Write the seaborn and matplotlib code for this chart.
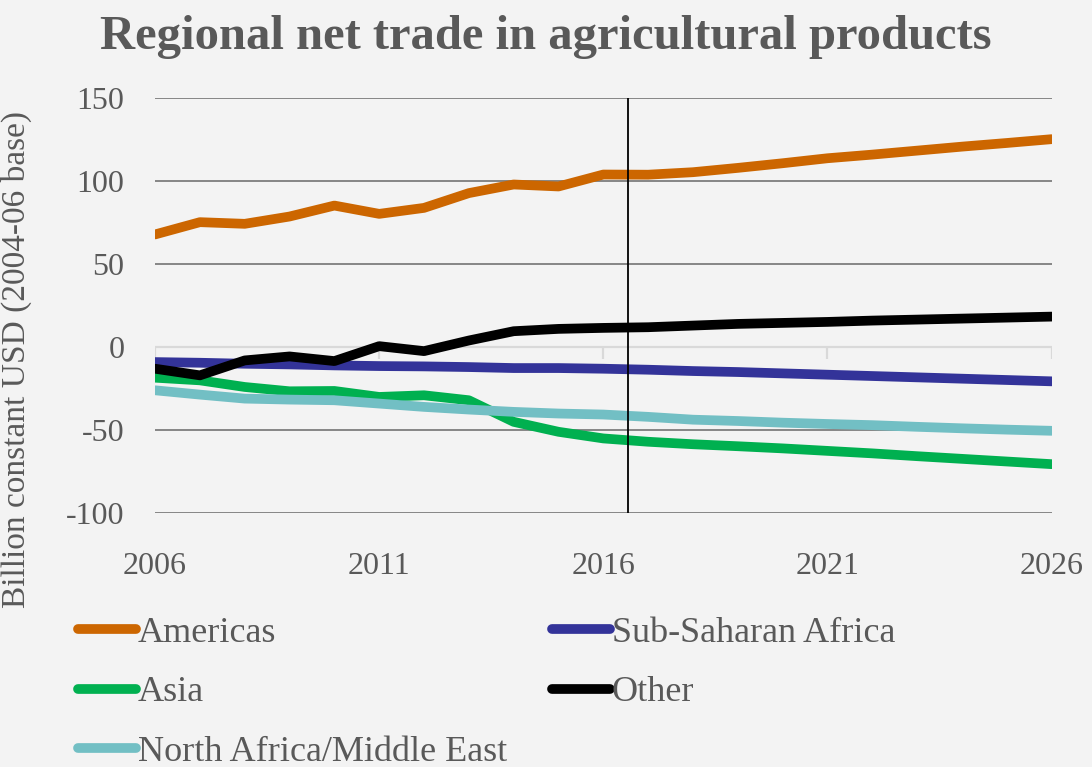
import matplotlib
matplotlib.use("Agg")
import matplotlib.pyplot as plt
from matplotlib.lines import Line2D
import pandas as pd
import seaborn as sns

YEARS = list(range(2006, 2027))

AMERICAS = [67.9, 75.3, 74.3, 78.7, 85.3, 80.3, 83.9, 92.8, 98.0, 96.8, 104.0,
            103.9, 105.4, 108.0, 110.8, 113.8, 116.0, 118.4, 120.8, 123.0, 125.3]
SSA = [-9.0, -9.4, -10.0, -10.4, -11.0, -11.4, -11.6, -12.0, -12.6, -12.6, -13.0,
       -13.6, -14.4, -15.0, -15.8, -16.6, -17.4, -18.2, -19.0, -19.8, -20.6]
ASIA = [-18.4, -20.0, -24.0, -26.6, -26.4, -30.0, -29.0, -32.0, -45.0, -51.0, -55.0,
        -57.0, -58.5, -59.7, -61.0, -62.5, -64.0, -65.7, -67.3, -68.9, -70.5]
NAME = [-26.0, -28.6, -31.0, -31.6, -32.0, -34.0, -36.0, -37.6, -39.0, -40.0, -40.6,
        -42.0, -43.7, -44.5, -45.5, -46.3, -47.0, -48.0, -48.9, -49.7, -50.4]
OTHER = [-13.0, -17.0, -8.0, -5.6, -8.4, 0.6, -2.4, 4.0, 9.6, 11.0, 11.6,
         12.0, 13.0, 14.0, 14.6, 15.2, 16.0, 16.6, 17.2, 17.8, 18.4]

SERIES = {
    "Americas": AMERICAS,
    "Sub-Saharan Africa": SSA,
    "Asia": ASIA,
    "North Africa/Middle East": NAME,
    "Other": OTHER,
}
COLORS = {
    "Americas": "#CC6600",
    "Sub-Saharan Africa": "#333399",
    "Asia": "#00B050",
    "North Africa/Middle East": "#72BFC4",
    "Other": "#000000",
}
LEGEND_ORDER = ["Americas", "Asia", "North Africa/Middle East", "Sub-Saharan Africa", "Other"]
Y_TICKS = [-100, -50, 0, 50, 100, 150]
X_TICKS = [2006, 2011, 2016, 2021, 2026]
SPLIT_YEAR = 2016.55

long = pd.concat(
    [pd.DataFrame({"year": YEARS, "value": v, "region": k}) for k, v in SERIES.items()],
    ignore_index=True,
)

sns.set_style("white")
plt.rcParams["font.family"] = ["Liberation Serif", "DejaVu Serif"]
plt.rcParams["axes.unicode_minus"] = False
TXT = "#595959"
BG = "#f3f3f3"

fig = plt.figure(figsize=(10.92, 7.67), dpi=100, facecolor=BG)
ax = fig.add_axes([0.142, 0.331, 0.821, 0.541])
ax.set_facecolor("none")

for y in Y_TICKS:
    if y == 0:
        ax.axhline(0, color="#d9d9d9", lw=1.6, zorder=1)
    else:
        ax.axhline(y, color="#868686", lw=1.4, zorder=1)
ax.vlines(X_TICKS, -7, 0, color="#d9d9d9", lw=1.6, zorder=1)

sns.lineplot(data=long, x="year", y="value", hue="region",
             hue_order=list(SERIES.keys()), palette=COLORS,
             linewidth=7, ax=ax, legend=False, zorder=3)

ax.axvline(SPLIT_YEAR, ymin=0, ymax=1, color="black", lw=1.3, zorder=4)

ax.set_xlim(2006, 2026)
ax.set_ylim(-100, 150)
ax.set_xticks(X_TICKS)
ax.set_yticks(Y_TICKS)
ax.tick_params(axis="both", length=0, labelsize=23, colors=TXT)
ax.tick_params(axis="y", pad=22)
ax.tick_params(axis="x", pad=28)
for s in ax.spines.values():
    s.set_visible(False)

ax.set_xlabel("")
ax.set_ylabel("Billion constant USD (2004-06 base)", fontsize=24, color=TXT)
ax.yaxis.set_label_coords(-0.137, 0.37)

fig.text(0.5, 0.952, "Regional net trade in agricultural products",
         ha="center", va="center", fontsize=35, fontweight="bold", color=TXT)

handles = [Line2D([0], [0], color=COLORS[k], lw=7, solid_capstyle="round") for k in LEGEND_ORDER]
leg = fig.legend(handles, LEGEND_ORDER, loc="upper left", bbox_to_anchor=(0.0714, 0.196),
                 ncol=2, frameon=False, fontsize=26, handlelength=1.6,
                 handletextpad=0.05, columnspacing=1.25, labelspacing=0.72,
                 borderaxespad=0, borderpad=0)
for t in leg.get_texts():
    t.set_color(TXT)

fig.savefig("out.png", dpi=100, facecolor=BG)
